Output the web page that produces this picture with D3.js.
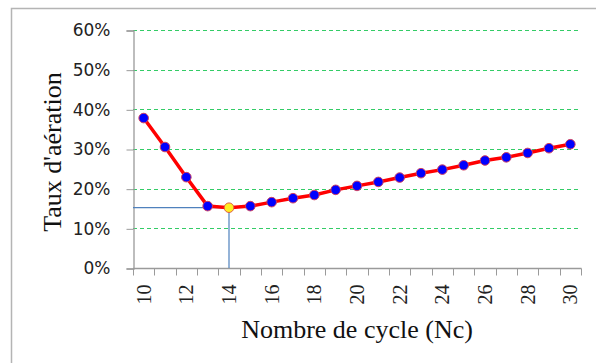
<!DOCTYPE html>
<html>
<head>
<meta charset="utf-8">
<script src="https://cdn.jsdelivr.net/npm/d3@7/dist/d3.min.js"></script>
<style>
  html, body { margin: 0; padding: 0; background: #fff; }
  svg { display: block; }
</style>
</head>
<body>
<svg id="chart" width="596" height="363"></svg>
<script>
// Number of cycles (Nc) and aeration rate for each
const cycles = [10, 11, 12, 13, 14, 15, 16, 17, 18, 19, 20, 21, 22, 23, 24, 25, 26, 27, 28, 29, 30];
const aeration = [0.378, 0.305, 0.229, 0.156, 0.152, 0.156, 0.166, 0.176, 0.184, 0.197, 0.207, 0.217, 0.228, 0.239, 0.248, 0.259, 0.271, 0.279, 0.290, 0.302, 0.312];
const yTicks = [0, 0.1, 0.2, 0.3, 0.4, 0.5, 0.6];
const xLabels = [10, 12, 14, 16, 18, 20, 22, 24, 26, 28, 30];
const optimumCycle = 14;

const svg = d3.select("#chart");

// outer frame
svg.append("rect")
  .attr("x", 11.5).attr("y", 8.5)
  .attr("width", 620).attr("height", 400)
  .attr("fill", "#fff")
  .attr("stroke", "#b4b4b4").attr("stroke-width", 1.5);

const x = d3.scaleBand().domain(cycles).range([133, 581]).padding(0);
const y = d3.scaleLinear().domain([0, 0.6]).range([268, 30]);

// horizontal gridlines
svg.append("g")
  .selectAll("line")
  .data(yTicks.filter(d => d > 0))
  .join("line")
  .attr("x1", 133).attr("x2", 580)
  .attr("y1", d => Math.round(y(d)) + 0.5).attr("y2", d => Math.round(y(d)) + 0.5)
  .attr("stroke", "#33cc66").attr("stroke-width", 1.2)
  .attr("stroke-dasharray", "4,3");

// y axis
const yAxis = svg.append("g")
  .attr("transform", "translate(133.5,0.5)")
  .call(d3.axisLeft(y).tickValues(yTicks).tickFormat(d3.format(".0%")).tickSize(7).tickPadding(16));
yAxis.select(".domain").attr("stroke", "#9a9a9a").attr("stroke-width", 1.3);
yAxis.selectAll(".tick line").attr("stroke", "#9a9a9a");
yAxis.selectAll(".tick text")
  .attr("font-family", "DejaVu Sans, sans-serif")
  .attr("font-size", 17).attr("fill", "#222");

// x axis: ticks on category boundaries
const xAxisG = svg.append("g").attr("transform", "translate(0,268.5)");
xAxisG.append("line")
  .attr("x1", 133).attr("x2", 581.5)
  .attr("stroke", "#9a9a9a").attr("stroke-width", 1.3);
const bounds = cycles.map(c => x(c)).concat([x(cycles[cycles.length - 1]) + x.bandwidth()]);
xAxisG.selectAll("line.tick")
  .data(bounds)
  .join("line")
  .attr("class", "tick")
  .attr("x1", d => Math.round(d) + 0.5).attr("x2", d => Math.round(d) + 0.5)
  .attr("y1", 0).attr("y2", 7)
  .attr("stroke", "#9a9a9a");
xAxisG.selectAll("text")
  .data(xLabels)
  .join("text")
  .attr("transform", d => `translate(${x(d) + x.bandwidth() / 2},16) rotate(-90)`)
  .attr("text-anchor", "end")
  .attr("dy", "0.35em")
  .attr("font-family", "Liberation Serif, Times New Roman, serif")
  .attr("font-size", 20).attr("fill", "#222")
  .text(d => d);

// reference lines marking the optimum
const optIdx = cycles.indexOf(optimumCycle);
const ox = x(optimumCycle) + x.bandwidth() / 2;
const oy = y(aeration[optIdx]);
svg.append("path")
  .attr("d", `M133,${oy}H${ox}V268`)
  .attr("fill", "none")
  .attr("stroke", "#4f81bd").attr("stroke-width", 1.2);

// series line
const pts = cycles.map((c, i) => [x(c) + x.bandwidth() / 2, y(aeration[i])]);
svg.append("path")
  .attr("d", d3.line()(pts))
  .attr("fill", "none")
  .attr("stroke", "#ff0000").attr("stroke-width", 3.5)
  .attr("stroke-linejoin", "round");

// markers
svg.append("g")
  .selectAll("circle")
  .data(cycles)
  .join("circle")
  .attr("cx", (c) => x(c) + x.bandwidth() / 2)
  .attr("cy", (c, i) => y(aeration[i]))
  .attr("r", 4.8)
  .attr("fill", c => c === optimumCycle ? "#ffee22" : "#0000ff")
  .attr("stroke", c => c === optimumCycle ? "#e06040" : "#d04060")
  .attr("stroke-width", 1);

// axis titles
svg.append("text")
  .attr("transform", "translate(61,152) rotate(-90)")
  .attr("text-anchor", "middle")
  .attr("font-family", "Liberation Serif, Times New Roman, serif")
  .attr("font-size", 26).attr("fill", "#111")
  .text("Taux d'aération");

svg.append("text")
  .attr("x", 357).attr("y", 338)
  .attr("text-anchor", "middle")
  .attr("font-family", "Liberation Serif, Times New Roman, serif")
  .attr("font-size", 26).attr("fill", "#111")
  .text("Nombre de cycle (Nc)");
</script>
</body>
</html>
